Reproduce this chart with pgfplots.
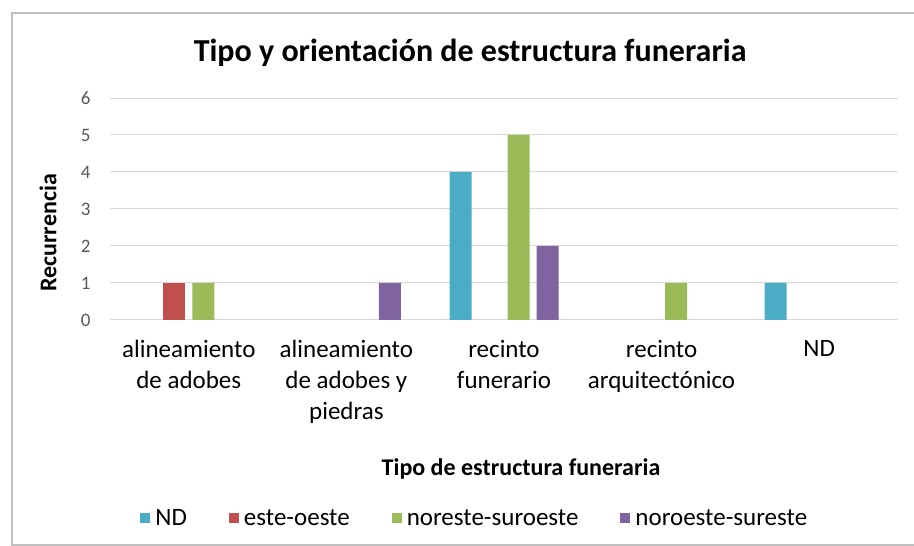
\documentclass[border=0pt]{standalone}
\usepackage{pgfplots}
\pgfplotsset{compat=1.18}
\usepackage{fontspec}
\setmainfont{Carlito}
\definecolor{cND}{HTML}{4BACC6}
\definecolor{cEO}{HTML}{C0504D}
\definecolor{cNS}{HTML}{9BBB59}
\definecolor{cNO}{HTML}{8064A2}
\definecolor{gridc}{HTML}{D9D9D9}
\definecolor{tickc}{HTML}{595959}
\definecolor{framec}{HTML}{BFBFBF}
\begin{document}
\begin{tikzpicture}[x=1pt,y=1pt]
\path[use as bounding box] (0,0) rectangle (914,546);
\draw[framec, line width=1.2pt] (930,533) -- (12,533) -- (12,1) -- (930,1);
\begin{axis}[
  at={(110pt,226pt)}, anchor=south west,
  width=788pt, height=222pt, scale only axis,
  xmin=-0.5, xmax=4.5, ymin=0, ymax=6,
  ybar=7pt, bar width=22pt,
  xtick={0,1,2,3,4},
  xticklabels={{alineamiento\\de adobes},{alineamiento\\de adobes y\\piedras},{recinto\\funerario},{recinto\\arquitectónico},{ND}},
  xticklabel style={align=center, font=\fontsize{25}{31}\selectfont, text=black, yshift=-17pt},
  ytick={0,1,2,3,4,5,6},
  yticklabel style={font=\fontsize{19}{22}\selectfont, text=tickc, xshift=-16pt},
  /pgf/number format/assume math mode=true,
  major tick length=0pt,
  axis line style={draw=none},
  ymajorgrids, grid style={gridc, line width=1pt},
  title={Tipo y orientación de estructura funeraria},
  title style={font=\fontsize{32}{38}\selectfont\bfseries, at={(rel axis cs:0.457,1.175)}, anchor=center},
  xlabel={Tipo de estructura funeraria},
  xlabel style={font=\fontsize{24}{28}\selectfont\bfseries, at={(rel axis cs:0.5216,-0.67)}, anchor=center},
  ylabel={Recurrencia},
  ylabel style={font=\fontsize{24}{28}\selectfont\bfseries, at={(rel axis cs:-0.0787,0.392)}, anchor=center, rotate=0},
  legend columns=-1,
  legend style={at={(rel axis cs:0.463,-0.892)}, anchor=center, draw=none, fill=none,
    font=\fontsize{25}{30}\selectfont,
    /tikz/every odd column/.append style={column sep=3pt},
    /tikz/every even column/.append style={column sep=40pt}},
  legend image code/.code={\fill[#1] (0pt,-5pt) rectangle (10pt,5pt);},
]
\addplot[fill=cND, draw=none] coordinates {(2,4) (4,1)};
\addplot[fill=cEO, draw=none] coordinates {(0,1)};
\addplot[fill=cNS, draw=none] coordinates {(0,1) (2,5) (3,1)};
\addplot[fill=cNO, draw=none] coordinates {(1,1) (2,2)};
\legend{ND,este-oeste,noreste-suroeste,noroeste-sureste}
\end{axis}
\end{tikzpicture}
\end{document}
